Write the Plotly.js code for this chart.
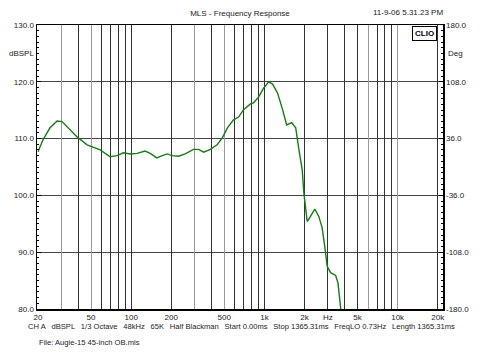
<!DOCTYPE html>
<html>
<head>
<meta charset="utf-8">
<script src="https://cdn.plot.ly/plotly-3.0.1.min.js"></script>
<style>html,body{margin:0;padding:0;background:#fff;}#chart{width:480px;height:360px;}</style>
</head>
<body>
<div id="chart"></div>
<script>
// Frequency response (Hz) and level (dBSPL)
const freqHz = [20, 21.8, 24.6, 27.8, 30.3, 33.0, 39.3, 46.7, 58.5, 69.5, 78.4, 87.2, 98.4, 111, 127, 139, 156, 171, 186, 202, 227, 254, 294, 321, 350, 393, 441, 482, 528, 586, 640, 698, 786, 828, 904, 986, 1076, 1152, 1256, 1370, 1469, 1603, 1718, 1817, 1923, 1978, 2096, 2218, 2389, 2560, 2714, 2838, 2960, 3138, 3426, 3566, 3724, 3800];
const levelDb = [107.7, 109.8, 111.9, 113.1, 113.0, 112.1, 110.3, 108.9, 108.0, 106.8, 107.0, 107.5, 107.3, 107.4, 107.8, 107.4, 106.6, 107.0, 107.3, 107.0, 106.9, 107.3, 108.1, 108.1, 107.6, 108.1, 108.9, 110.1, 111.9, 113.3, 113.8, 115.1, 116.1, 116.3, 117.3, 118.9, 120.0, 119.6, 118.0, 115.1, 112.4, 112.8, 111.9, 108.0, 104.5, 100.4, 95.4, 96.3, 97.6, 96.3, 94.3, 91.0, 87.5, 86.4, 85.9, 84.6, 80.0, 78.5];

// Axis ticks and labels
const xTickVals = [20, 50, 100, 200, 500, 1000, 2000, 3000, 5000, 10000, 20000];
const xTickText = ['20', '50', '100', '200', '500', '1k', '2k', 'Hz', '5k', '10k', '20k'];
const darkGridHz = [40, 60, 70, 80, 90, 100, 200, 400, 600, 700, 800, 900, 1000, 2000, 3000, 4000, 5000, 7000, 8000, 9000, 20000];
const lightGridHz = [30, 50, 300, 500, 6000, 10000];
const yTickVals = [80, 90, 100, 110, 120, 130];
const yTickText = ['80.0', '90.0', '100.0', '110.0', '120.0', '130.0'];
const degTickVals = [-180, -108, -36, 36, 108, 180];
const degTickText = ['-180.0', '-108.0', '-36.0', '36.0', '108.0', '180.0'];

const FONT = 'Liberation Sans, Arial, sans-serif';
const TXT = '#222';
const xRange = [Math.log10(19.65), Math.log10(21900)];

const traces = [
  {x: freqHz, y: levelDb, type: 'scatter', mode: 'lines', xaxis: 'x', yaxis: 'y',
   line: {color: '#167a16', width: 1.4}, hoverinfo: 'skip', showlegend: false},
  {x: [], y: [], type: 'scatter', xaxis: 'x2', yaxis: 'y', showlegend: false},
  {x: [], y: [], type: 'scatter', xaxis: 'x3', yaxis: 'y', showlegend: false},
  {x: [], y: [], type: 'scatter', xaxis: 'x', yaxis: 'y2', showlegend: false}
];

const gap = '\u00a0\u00a0\u2009';
const infoLine = ['CH A', 'dBSPL', '1/3 Octave', '48kHz', '65K', 'Half Blackman', 'Start 0.00ms', 'Stop 1365.31ms', 'FreqLO 0.73Hz', 'Length 1365.31ms'].join(gap);

const layout = {
  width: 480, height: 360,
  margin: {l: 37, r: 37, t: 25, b: 51, pad: 0},
  paper_bgcolor: '#fff', plot_bgcolor: '#fff',
  font: {family: FONT, size: 8, color: TXT},
  showlegend: false,
  title: {text: 'MLS - Frequency Response', font: {family: FONT, size: 8, color: TXT},
          x: 0.5, xanchor: 'center', xref: 'paper', y: 1 - 13/360, yanchor: 'middle', yref: 'container'},
  xaxis: {type: 'log', range: xRange, tickmode: 'array', tickvals: xTickVals, ticktext: xTickText,
          showgrid: false, zeroline: false, ticks: '', showline: true, mirror: true,
          linecolor: '#000', linewidth: 1.5, tickfont: {size: 8, color: TXT}, fixedrange: true},
  xaxis2: {type: 'log', range: xRange, overlaying: 'x', anchor: 'y', tickmode: 'array', tickvals: darkGridHz,
           showticklabels: false, ticks: '', showgrid: true, gridcolor: '#333', gridwidth: 1,
           showline: false, zeroline: false, fixedrange: true},
  xaxis3: {type: 'log', range: xRange, overlaying: 'x', anchor: 'y', tickmode: 'array', tickvals: lightGridHz,
           showticklabels: false, ticks: '', showgrid: true, gridcolor: '#999', gridwidth: 1,
           showline: false, zeroline: false, fixedrange: true},
  yaxis: {range: [80, 130], tickmode: 'array', tickvals: yTickVals, ticktext: yTickText,
          showgrid: true, gridcolor: '#444', gridwidth: 1, zeroline: false,
          ticks: 'inside', ticklen: 4, tickcolor: '#000', showline: true, mirror: true,
          linecolor: '#000', linewidth: 1.5, tickfont: {size: 8, color: TXT},
          minor: {dtick: 1, tick0: 80, ticks: 'inside', ticklen: 2, tickcolor: '#000', showgrid: false},
          fixedrange: true},
  yaxis2: {range: [-180, 180], overlaying: 'y', side: 'right', anchor: 'x', tickmode: 'array',
           tickvals: degTickVals, ticktext: degTickText, showgrid: false, zeroline: false,
           ticks: 'inside', ticklen: 4, tickcolor: '#000', showline: false, ticklabelstandoff: 2,
           tickfont: {size: 8, color: TXT},
           minor: {dtick: 7.2, tick0: -180, ticks: 'inside', ticklen: 2, tickcolor: '#000', showgrid: false},
           fixedrange: true},
  annotations: [
    {text: 'dBSPL', xref: 'paper', x: 0, xanchor: 'right', xshift: -1, yref: 'y', y: 125, yanchor: 'middle',
     showarrow: false, font: {size: 8, color: TXT}},
    {text: 'Deg', xref: 'paper', x: 1, xanchor: 'left', xshift: 3, yref: 'y', y: 125, yanchor: 'middle',
     showarrow: false, font: {size: 8, color: TXT}},
    {text: '11-9-06 5.31.23 PM', xref: 'paper', x: 1.005, xanchor: 'right', yref: 'paper', y: 1, yanchor: 'bottom',
     yshift: 6, showarrow: false, font: {size: 8, color: TXT}},
    {text: '<b>CLIO</b>', xref: 'paper', x: (437 - 37) / 406, xanchor: 'right', yref: 'paper', y: 1, yanchor: 'top',
     yshift: -1, showarrow: false, font: {size: 8, color: '#000'}, bordercolor: '#000', borderwidth: 1,
     borderpad: 2, bgcolor: '#fff'},
    {text: infoLine, xref: 'paper', x: (26 - 37) / 406, xanchor: 'left', yref: 'paper', y: (309.5 - 327) / 284.5,
     yanchor: 'middle', showarrow: false, font: {size: 7.6, color: TXT}},
    {text: 'File: Augie-15 45-inch OB.mls', xref: 'paper', x: 0, xanchor: 'left', yref: 'paper', y: (309.5 - 343) / 284.5,
     yanchor: 'middle', showarrow: false, font: {size: 7.6, color: TXT}}
  ]
};

Plotly.newPlot('chart', traces, layout, {displayModeBar: false, staticPlot: true});
</script>
</body>
</html>
